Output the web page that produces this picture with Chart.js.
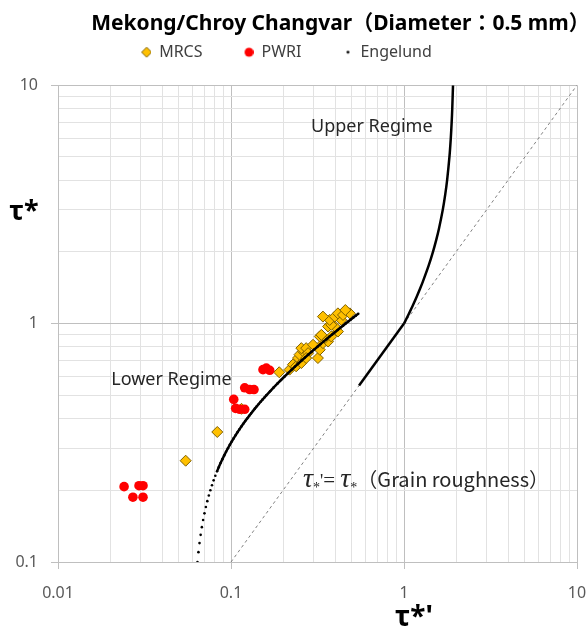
<!DOCTYPE html>
<html>
<head>
<meta charset="utf-8">
<script src="https://cdn.jsdelivr.net/npm/chart.js@4.4.1/dist/chart.umd.min.js"></script>
<style>
  html, body { margin: 0; padding: 0; background: #fff; }
  #wrap { width: 588px; height: 632px; }
</style>
</head>
<body>
<div id="wrap"><canvas id="chart" width="588" height="632"></canvas></div>
<script>
// axis decades (tick labels)
const xDecades = [0.01, 0.1, 1, 10];
const yDecades = [0.1, 1, 10];

// MRCS measurements (tau*' , tau*)
const mrcsX = [0.0547, 0.0833, 0.115, 0.190, 0.218, 0.228, 0.238, 0.244, 0.255, 0.249, 0.261, 0.255,
  0.272, 0.279, 0.272, 0.298, 0.318, 0.326, 0.340, 0.364, 0.348, 0.326, 0.333, 0.380, 0.415, 0.364,
  0.398, 0.380, 0.372, 0.434, 0.340, 0.398, 0.415, 0.444, 0.486, 0.458];
const mrcsY = [0.266, 0.351, 0.439, 0.625, 0.641, 0.673, 0.662, 0.717, 0.683, 0.741, 0.765, 0.789,
  0.789, 0.752, 0.717, 0.815, 0.717, 0.777, 0.828, 0.841, 0.868, 0.883, 0.897, 0.883, 0.926, 0.972,
  0.972, 0.988, 1.036, 1.036, 1.070, 1.070, 1.104, 1.087, 1.104, 1.140];

// PWRI measurements
const pwriX = [0.0241, 0.0294, 0.0310, 0.0271, 0.0310, 0.1037, 0.1064, 0.1123, 0.1200, 0.1200,
  0.1283, 0.1358, 0.1531, 0.1600, 0.1674];
const pwriY = [0.207, 0.209, 0.209, 0.187, 0.187, 0.481, 0.441, 0.437, 0.437, 0.538,
  0.529, 0.529, 0.641, 0.651, 0.637];

// Engelund curve, lower regime
const engLowerX = [0.064, 0.06484, 0.06576, 0.06676, 0.06784, 0.069, 0.07024, 0.07156, 0.07296, 0.07444,
  0.076, 0.07764, 0.07936, 0.08116, 0.08304, 0.085, 0.08704, 0.08916, 0.09136, 0.09364,
  0.096, 0.09844, 0.10096, 0.10356, 0.10624, 0.109, 0.11184, 0.11476, 0.11776, 0.12084,
  0.124, 0.12724, 0.13056, 0.13396, 0.13744, 0.141, 0.14464, 0.14836, 0.15216, 0.15604, 0.16,
  0.16816, 0.17664, 0.18544, 0.19456, 0.204, 0.21376, 0.22384, 0.23424, 0.24496, 0.256,
  0.26736, 0.27904, 0.29104, 0.30336, 0.316, 0.32896, 0.34224, 0.35584, 0.36976, 0.384,
  0.39856, 0.41344, 0.42864, 0.44416, 0.46, 0.47616, 0.49264, 0.50944, 0.52656, 0.544];
const engLowerY = [0.10, 0.11, 0.12, 0.13, 0.14, 0.15, 0.16, 0.17, 0.18, 0.19,
  0.20, 0.21, 0.22, 0.23, 0.24, 0.25, 0.26, 0.27, 0.28, 0.29,
  0.30, 0.31, 0.32, 0.33, 0.34, 0.35, 0.36, 0.37, 0.38, 0.39,
  0.40, 0.41, 0.42, 0.43, 0.44, 0.45, 0.46, 0.47, 0.48, 0.49, 0.50,
  0.52, 0.54, 0.56, 0.58, 0.60, 0.62, 0.64, 0.66, 0.68, 0.70,
  0.72, 0.74, 0.76, 0.78, 0.80, 0.82, 0.84, 0.86, 0.88, 0.90,
  0.92, 0.94, 0.96, 0.98, 1.00, 1.02, 1.04, 1.06, 1.08, 1.10];

// Engelund transition + upper regime
const engMidX = [0.55, 1.0];
const engMidY = [0.55, 1.0];
const engUpperX = [1.0, 1.0344, 1.0673, 1.1292, 1.1858, 1.2378, 1.2854, 1.3879, 1.4704, 1.5374,
  1.5923, 1.675, 1.7331, 1.7752, 1.8308, 1.8643, 1.8861, 1.9012, 1.9199];
const engUpperY = [1.0, 1.05, 1.1, 1.2, 1.3, 1.4, 1.5, 1.75, 2, 2.25,
  2.5, 3, 3.5, 4, 5, 6, 7, 8, 10];

// grain roughness line tau*' = tau*
const grainX = [0.1, 10];
const grainY = [0.1, 10];

const pts = (xs, ys) => xs.map((x, i) => ({ x: x, y: ys[i] }));
const isMajor = v => Math.abs(Math.log10(v) - Math.round(Math.log10(v))) < 1e-9;
const logTicks = decades => {
  const out = [];
  decades.forEach((d, i) => {
    if (i === decades.length - 1) { out.push({ value: d, major: true }); return; }
    for (let k = 1; k <= 9; k++) out.push({ value: +(d * k).toPrecision(3), major: k === 1 });
  });
  return out;
};

// legend icons: wide transparent box with the marker at its right end
function icon(draw) {
  const c = document.createElement('canvas');
  c.width = 40; c.height = 14;
  const g = c.getContext('2d');
  draw(g, 35.5, 7);
  return c;
}
const legendIcons = {
  'MRCS': icon((g, x, y) => {
    g.beginPath(); g.moveTo(x - 5, y); g.lineTo(x, y - 5); g.lineTo(x + 5, y); g.lineTo(x, y + 5); g.closePath();
    g.fillStyle = '#FFC000'; g.fill(); g.strokeStyle = '#7F6000'; g.lineWidth = 1; g.stroke();
  }),
  'PWRI': icon((g, x, y) => {
    g.beginPath(); g.arc(x, y, 4.5, 0, Math.PI * 2); g.fillStyle = '#FF0000'; g.fill();
  }),
  'Engelund': icon((g, x, y) => {
    g.beginPath(); g.arc(x, y, 1.4, 0, Math.PI * 2); g.fillStyle = '#000'; g.fill();
  })
};

const gridColor = c => (c.tick && c.tick.major) ? '#bfbfbf' : '#e2e2e2';
const tickColor = c => (c.tick && c.tick.major) ? '#bfbfbf' : 'rgba(0,0,0,0)';
const FONT = "'Noto Sans', 'Noto Sans CJK JP', sans-serif";

// move title / legend to where they sit in the original
const nudge = {
  id: 'nudge',
  afterLayout(chart) {
    const lg = chart.legend;
    lg.left -= 17; lg.right -= 17;
    lg.top -= 15; lg.bottom -= 15;
    const tb = chart.titleBlock;
    tb.left += 52; tb.right += 52; tb.top += 1; tb.bottom += 1;
  }
};

// axis titles and text notes
const notes = {
  id: 'notes',
  afterDraw(chart) {
    const ctx = chart.ctx;
    const xs = chart.scales.x, ys = chart.scales.y;
    ctx.save();
    ctx.fillStyle = '#000';
    ctx.font = 'bold 27px ' + FONT;
    ctx.textAlign = 'center';
    ctx.textBaseline = 'middle';
    ctx.fillText('τ*', 24, 212);
    ctx.font = 'bold 28px ' + FONT;
    ctx.fillText("τ*'", 414, 618);

    ctx.fillStyle = '#262626';
    ctx.textAlign = 'left';
    ctx.font = '18px ' + FONT;
    ctx.fillText('Upper Regime', xs.getPixelForValue(0.29), ys.getPixelForValue(6.68));
    ctx.fillText('Lower Regime', xs.getPixelForValue(0.0203), ys.getPixelForValue(0.579));

    // tau*' = tau* (Grain roughness)
    let x = xs.getPixelForValue(0.2607);
    const yb = ys.getPixelForValue(0.2054);
    ctx.textBaseline = 'alphabetic';
    const put = (txt, font, dy) => {
      ctx.font = font;
      ctx.fillText(txt, x, yb + (dy || 0));
      x += ctx.measureText(txt).width;
    };
    put('τ', "italic 28px 'Liberation Serif', serif");
    put('*', "14px 'Liberation Serif', serif", 5);
    put("'", "18px 'Liberation Serif', serif");
    put('= ', "21px 'Liberation Serif', serif");
    put('τ', "italic 28px 'Liberation Serif', serif");
    put('*', "14px 'Liberation Serif', serif", 5);
    put('（Grain roughness）', "20px 'Noto Sans CJK JP', sans-serif");
    ctx.restore();
  }
};

new Chart(document.getElementById('chart'), {
  type: 'scatter',
  plugins: [nudge, notes],
  data: {
    datasets: [
      {
        label: 'Engelund',
        data: pts(engLowerX, engLowerY),
        showLine: true,
        borderColor: '#000',
        borderWidth: 2.5,
        segment: { borderColor: c => c.p0.parsed.y < 0.24 ? 'rgba(0,0,0,0)' : '#000' },
        pointRadius: 1.3,
        pointBackgroundColor: '#000',
        pointBorderWidth: 0
      },
      {
        label: 'Engelund transition',
        data: pts(engMidX, engMidY),
        showLine: true,
        borderColor: '#000',
        borderWidth: 2.5,
        pointRadius: 0
      },
      {
        label: 'Engelund upper',
        data: pts(engUpperX, engUpperY),
        showLine: true,
        borderColor: '#000',
        borderWidth: 2.5,
        tension: 0.3,
        pointRadius: 0
      },
      {
        label: 'Grain roughness',
        data: pts(grainX, grainY),
        showLine: true,
        borderColor: '#808080',
        borderWidth: 1,
        borderDash: [3, 3],
        pointRadius: 0
      },
      {
        label: 'PWRI',
        data: pts(pwriX, pwriY),
        pointStyle: 'circle',
        pointRadius: 4.8,
        pointBackgroundColor: '#FF0000',
        pointBorderWidth: 0
      },
      {
        label: 'MRCS',
        data: pts(mrcsX, mrcsY),
        pointStyle: 'rectRot',
        pointRadius: 5.5,
        pointBackgroundColor: '#FFC000',
        pointBorderColor: '#7F6000',
        pointBorderWidth: 1
      }
    ]
  },
  options: {
    responsive: false,
    animation: false,
    events: [],
    layout: { padding: { left: 0, right: 11, top: 0, bottom: 0 } },
    plugins: {
      tooltip: { enabled: false },
      title: {
        display: true,
        text: 'Mekong/Chroy Changvar（Diameter：0.5 mm）',
        color: '#000',
        font: { family: FONT, size: 21, weight: 'bold', lineHeight: 1.2 },
        padding: { top: 10, bottom: 13 }
      },
      legend: {
        display: true,
        position: 'top',
        labels: {
          color: '#404040',
          font: { family: FONT, size: 16 },
          usePointStyle: true,
          pointStyleWidth: 40,
          padding: 11,
          generateLabels(chart) {
            const items = Chart.defaults.plugins.legend.labels.generateLabels(chart);
            return ['MRCS', 'PWRI', 'Engelund'].map(n => {
              const it = items.find(i => i.text === n);
              it.pointStyle = legendIcons[n];
              return it;
            });
          }
        }
      }
    },
    scales: {
      x: {
        type: 'logarithmic',
        min: 0.01,
        max: 10,
        afterBuildTicks: s => { s.ticks = logTicks(xDecades); },
        afterFit: s => { s.height = 70; s.paddingRight = 9; s.paddingLeft = 0; },
        ticks: {
          autoSkip: false,
          maxRotation: 0,
          padding: 15,
          color: '#595959',
          font: { family: FONT, size: 16 },
          callback: v => isMajor(v) ? String(v) : ''
        },
        grid: { color: gridColor, tickColor: tickColor, tickLength: 7 },
        border: { color: '#bfbfbf' }
      },
      y: {
        type: 'logarithmic',
        min: 0.1,
        max: 10,
        afterBuildTicks: s => { s.ticks = logTicks(yDecades); },
        afterFit: s => { s.width = 58; },
        ticks: {
          autoSkip: false,
          padding: 13,
          color: '#595959',
          font: { family: FONT, size: 16 },
          callback: v => isMajor(v) ? String(v) : ''
        },
        grid: { color: gridColor, tickColor: tickColor, tickLength: 7 },
        border: { color: '#bfbfbf' }
      }
    }
  }
});
</script>
</body>
</html>
